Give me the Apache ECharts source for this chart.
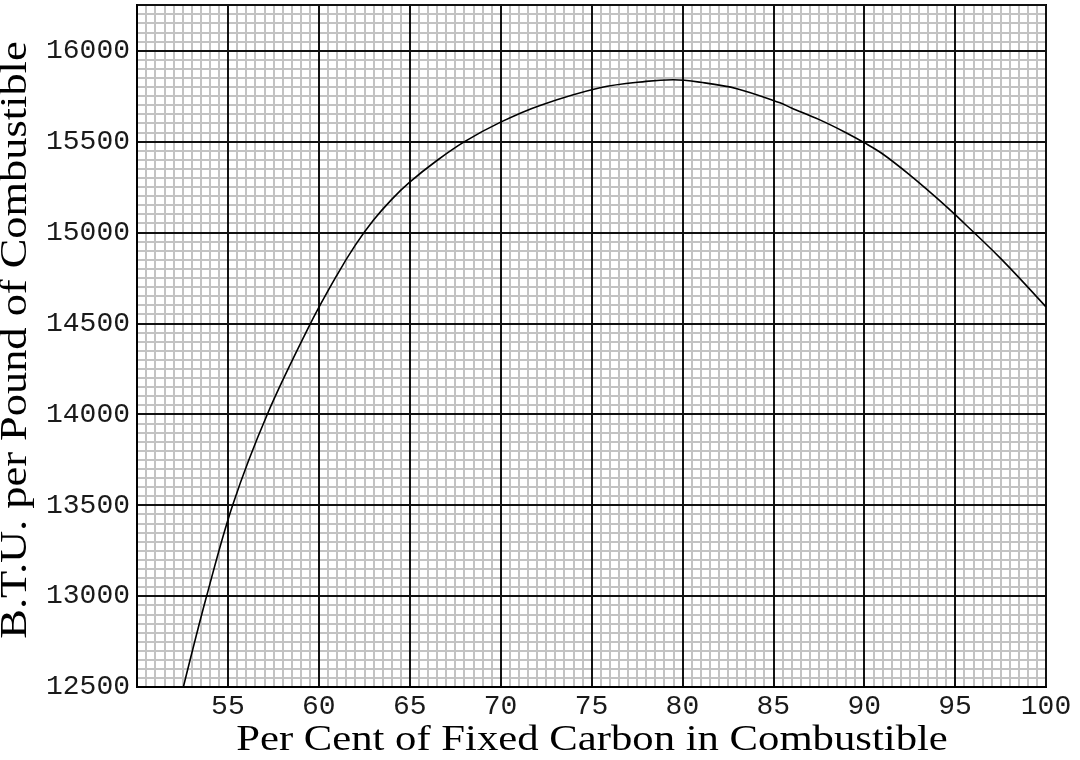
<!DOCTYPE html>
<html>
<head>
<meta charset="utf-8">
<script src="https://cdn.jsdelivr.net/npm/echarts@6/dist/echarts.min.js"></script>
<style>
html,body{margin:0;padding:0;background:#fff;}
#c{width:1080px;height:760px;}
</style>
</head>
<body>
<div id="c"></div>
<script>
// Per cent of fixed carbon in combustible (x) and B.T.U. per pound of combustible (y)
const carbonPct = [52.55, 53.83, 55.26, 57.17, 59.55, 61, 62, 63, 64, 65, 66.5, 68.04, 70, 72.17, 75.47, 78, 79.5, 81, 83, 85.37, 86, 87.5, 89, 90, 91, 92.5, 94, 95, 97.5, 100];
const btuPerPound = [12500, 13000, 13500, 14000, 14500, 14765, 14928, 15066, 15180, 15276, 15395, 15500, 15606, 15698, 15795, 15830, 15839, 15825, 15790, 15712, 15684, 15621, 15548, 15493, 15432, 15316, 15188, 15097, 14857, 14590];
const xTicks = [55, 60, 65, 70, 75, 80, 85, 90, 95, 100];
const yTicks = [12500, 13000, 13500, 14000, 14500, 15000, 15500, 16000];
const xTitle = 'Per Cent of Fixed Carbon in Combustible';
const yTitle = 'B.T.U. per Pound of Combustible';

const chart = echarts.init(document.getElementById('c'), null, {renderer: 'canvas'});
const labelFont = {fontFamily: 'Liberation Mono', fontSize: 28, color: '#1a1a1a'};
const minorLine = {show: true, lineStyle: {color: '#c3c3c3', width: 2}};
const majorLine = {show: true, lineStyle: {color: '#111', width: 2}};

chart.setOption({
  backgroundColor: '#fff',
  animation: false,
  grid: {left: 137, right: 34, top: 5, bottom: 73, containLabel: false, outerBoundsMode: 'none',
         show: true, borderColor: '#000', borderWidth: 2, backgroundColor: 'transparent'},
  xAxis: [
    {
      type: 'value', min: 50, max: 100, interval: 5, position: 'bottom', z: 2,
      axisLine: {show: true, lineStyle: {color: '#000', width: 2}},
      axisTick: {show: false},
      axisLabel: Object.assign({margin: 6, formatter: v => xTicks.includes(v) ? String(v) : ''}, labelFont),
      splitLine: majorLine
    },
    {
      type: 'value', min: 50, max: 100, interval: 0.5, position: 'top', z: 1,
      axisLine: {show: false}, axisTick: {show: false}, axisLabel: {show: false},
      splitLine: minorLine
    }
  ],
  yAxis: [
    {
      type: 'value', min: 12500, max: 16250, interval: 500, position: 'left', z: 2,
      axisLine: {show: true, lineStyle: {color: '#000', width: 2}},
      axisTick: {show: false},
      axisLabel: Object.assign({margin: 7, formatter: v => yTicks.includes(v) ? String(v) : ''}, labelFont),
      splitLine: majorLine
    },
    {
      type: 'value', min: 12500, max: 16250, interval: 50, position: 'right', z: 1,
      axisLine: {show: false}, axisTick: {show: false}, axisLabel: {show: false},
      splitLine: minorLine
    }
  ],
  graphic: [
    {
      type: 'text', x: 592, y: 741, scaleX: 1.22, z: 10,
      style: {text: xTitle, font: '35px "Liberation Serif"', fill: '#000', textAlign: 'center', textVerticalAlign: 'middle'}
    },
    {
      type: 'text', x: 16.5, y: 340, rotation: Math.PI / 2, scaleX: 1.2, z: 10,
      style: {text: yTitle, font: '37px "Liberation Serif"', fill: '#000', textAlign: 'center', textVerticalAlign: 'middle'}
    }
  ],
  series: [{
    type: 'line', xAxisIndex: 0, yAxisIndex: 0, z: 5,
    data: carbonPct.map((x, i) => [x, btuPerPound[i]]),
    smooth: 0.35, showSymbol: false, symbol: 'none',
    lineStyle: {color: '#000', width: 1.6},
    clip: true
  }]
});
</script>
</body>
</html>
